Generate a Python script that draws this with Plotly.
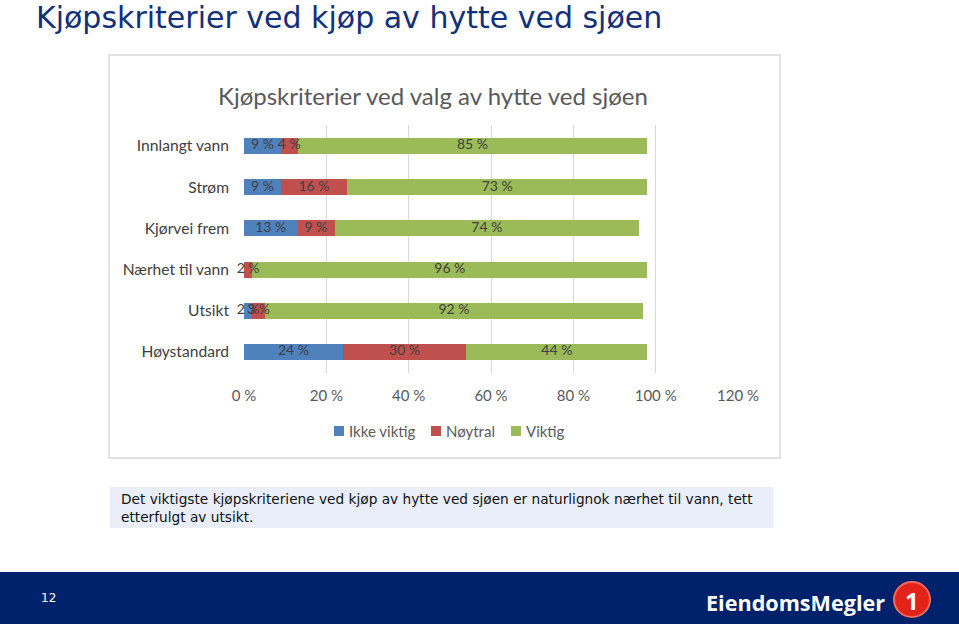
import plotly.graph_objects as go

W, H = 959, 624

categories = ["Innlangt vann", "Strøm", "Kjørvei frem", "Nærhet til vann", "Utsikt", "Høystandard"]
ikke_viktig = [9, 9, 13, 0, 2, 24]
noytral = [4, 16, 9, 2, 3, 30]
viktig = [85, 73, 74, 96, 92, 44]
series_names = ["Ikke viktig", "Nøytral", "Viktig"]
x_ticks = [0, 20, 40, 60, 80, 100, 120]
x_tick_labels = ["0 %", "20 %", "40 %", "60 %", "80 %", "100 %", "120 %"]

colors = ["#4F81BD", "#C0504D", "#9BBB59"]
label_font = "Lato, Calibri, Carlito, sans-serif"


def px(x):
    return x / W


def py(y):
    return 1 - y / H


fig = go.Figure()
series = [ikke_viktig, noytral, viktig]
for name, vals, col in zip(series_names, series, colors):
    fig.add_trace(go.Bar(
        y=categories, x=vals, name=name, orientation="h",
        marker=dict(color=col, line=dict(width=0)),
        showlegend=False, hoverinfo="x+y+name",
    ))

# data labels drawn on top of all bars (centered on each segment)
base = [0] * len(categories)
for vals in series:
    mids = [b + v / 2 for b, v in zip(base, vals)]
    fig.add_trace(go.Scatter(
        x=mids, y=categories, mode="text",
        text=[f"{v} %" if v > 0 else "" for v in vals],
        textposition="middle center",
        textfont=dict(family=label_font, size=14, color="#404040"),
        showlegend=False, hoverinfo="skip", cliponaxis=False,
    ))
    base = [b + v for b, v in zip(base, vals)]

shapes = [
    dict(type="rect", xref="paper", yref="paper", x0=px(109), x1=px(780), y0=py(458), y1=py(55),
         fillcolor="white", line=dict(color="#D9D9D9", width=1.5), layer="below"),
    dict(type="rect", xref="paper", yref="paper", x0=px(110), x1=px(773), y0=py(528), y1=py(487),
         fillcolor="#E9EEF8", line=dict(width=0), layer="below"),
    dict(type="rect", xref="paper", yref="paper", x0=0, x1=1, y0=0, y1=py(572),
         fillcolor="#00216B", line=dict(width=0), layer="below"),
    dict(type="circle", xref="paper", yref="paper", x0=px(894), x1=px(930), y0=py(617), y1=py(582),
         fillcolor="#E2231A", line=dict(color="#F26B5B", width=2), layer="above"),
]

annotations = [
    dict(text="Kjøpskriterier ved kjøp av hytte ved sjøen", x=px(34), y=py(17), xref="paper", yref="paper",
         xanchor="left", yanchor="middle", showarrow=False,
         font=dict(family="DejaVu Sans, Verdana, sans-serif", size=30, color="#13307A")),
    dict(text="Kjøpskriterier ved valg av hytte ved sjøen", x=px(433), y=py(95), xref="paper", yref="paper",
         xanchor="center", yanchor="middle", showarrow=False,
         font=dict(family=label_font, size=24, color="#595959")),
    dict(text="Det viktigste kjøpskriteriene ved kjøp av hytte ved sjøen er naturlignok nærhet til vann, tett",
         x=px(119), y=py(499), xref="paper", yref="paper", xanchor="left", yanchor="middle", showarrow=False,
         font=dict(family="DejaVu Sans, Verdana, sans-serif", size=13.7, color="#111111")),
    dict(text="etterfulgt av utsikt.",
         x=px(119), y=py(517), xref="paper", yref="paper", xanchor="left", yanchor="middle", showarrow=False,
         font=dict(family="DejaVu Sans, Verdana, sans-serif", size=13.7, color="#111111")),
    dict(text="12", x=px(48), y=py(598), xref="paper", yref="paper", xanchor="center", yanchor="middle",
         showarrow=False, font=dict(family="DejaVu Sans, sans-serif", size=12, color="white")),
    dict(text="<b>EiendomsMegler</b>", x=px(887), y=py(602), xref="paper", yref="paper", xanchor="right",
         yanchor="middle", showarrow=False,
         font=dict(family="Open Sans, sans-serif", size=21.6, color="white")),
    dict(text="<b>1</b>", x=px(912), y=py(600), xref="paper", yref="paper", xanchor="center",
         yanchor="middle", showarrow=False,
         font=dict(family="Open Sans, sans-serif", size=24, color="white")),
]

# custom legend (compact, Excel-like)
legend_sq_x = [334, 431, 511]
legend_y = 431
for name, col, sx in zip(series_names, colors, legend_sq_x):
    shapes.append(dict(type="rect", xref="paper", yref="paper", x0=px(sx), x1=px(sx + 10),
                       y0=py(legend_y + 5), y1=py(legend_y - 5), fillcolor=col, line=dict(width=0)))
    annotations.append(dict(text=name, x=px(sx + 13), y=py(legend_y), xref="paper", yref="paper",
                            xanchor="left", yanchor="middle", showarrow=False,
                            font=dict(family=label_font, size=15, color="#595959")))

fig.update_layout(
    width=W, height=H, margin=dict(l=0, r=0, t=0, b=0, pad=0), autosize=False,
    paper_bgcolor="white", plot_bgcolor="rgba(0,0,0,0)",
    barmode="stack", bargap=0.61,
    shapes=shapes, annotations=annotations,
    showlegend=False,
    xaxis=dict(domain=[px(244), px(738)], range=[0, 120], tickvals=x_ticks, ticktext=x_tick_labels,
               showgrid=True, gridcolor="#D9D9D9", gridwidth=1, zeroline=False, showline=False,
               ticks="", ticklabelstandoff=12, automargin=False,
               tickfont=dict(family=label_font, size=15, color="#595959")),
    yaxis=dict(domain=[py(372.6), py(125.4)], autorange="reversed", showgrid=False, zeroline=False,
               showline=False, ticks="", ticklabelstandoff=14, automargin=False,
               tickfont=dict(family=label_font, size=15.6, color="#404040")),
    font=dict(family=label_font),
)

fig.write_html("out.html", config={"displayModeBar": False},
               post_script="document.body.style.margin='0';")
